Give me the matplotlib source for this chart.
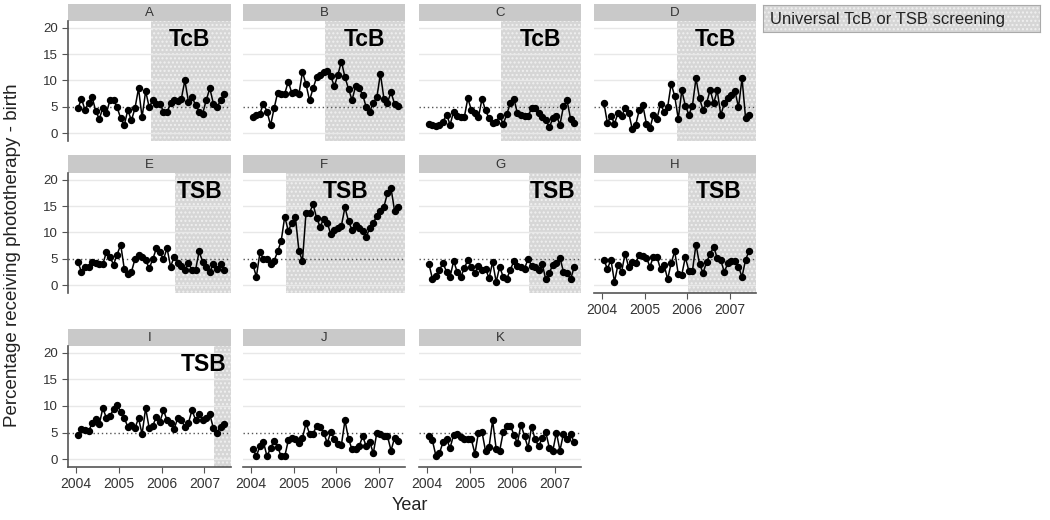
import numpy as np
import matplotlib
matplotlib.use("Agg")
from matplotlib import pyplot as plt
from matplotlib.patches import Rectangle

plt.rcParams['font.family'] = ['Liberation Sans', 'DejaVu Sans']
plt.rcParams['hatch.linewidth'] = 1.0

# monthly values, Jan 2004 - Jun 2007 (percentage receiving phototherapy)
A = [4.7, 6.5, 4.4, 5.8, 6.8, 4.2, 2.7, 4.8, 3.8, 6.3, 6.3, 4.9, 2.8, 1.5, 4.4, 2.4, 4.7, 8.5, 3.0, 8.0,
     4.9, 6.3, 5.5, 5.6, 4.1, 4.0, 5.7, 6.3, 6.1, 6.5, 10.0, 6.0, 6.8, 5.4, 4.1, 3.7, 6.3, 8.5, 5.6, 4.9, 6.2, 7.5]
B = [3.0, 3.5, 3.7, 5.6, 4.1, 1.5, 4.7, 7.7, 7.4, 7.5, 9.8, 7.6, 7.9, 7.4, 11.6, 9.3, 6.2, 8.5, 10.6, 11.0,
     11.6, 11.8, 10.8, 8.9, 11.1, 13.6, 10.6, 8.4, 6.3, 8.9, 8.5, 7.3, 4.9, 4.1, 5.8, 6.8, 11.3, 6.5, 5.8, 7.8, 5.5, 5.1]
C = [1.8, 1.6, 1.3, 1.6, 2.2, 3.5, 1.6, 4.1, 3.2, 3.0, 3.0, 6.6, 4.4, 3.8, 3.0, 6.5, 4.3, 2.8, 2.0, 2.1,
     3.3, 1.7, 3.6, 5.7, 6.5, 3.8, 3.4, 3.2, 3.2, 4.7, 4.7, 3.8, 3.0, 2.5, 1.1, 2.8, 3.3, 1.6, 5.1, 6.2, 2.7, 2.0]
D = [5.8, 1.9, 3.3, 1.8, 3.8, 3.3, 4.7, 3.9, 0.8, 1.6, 4.4, 5.3, 1.8, 0.9, 3.5, 2.7, 5.6, 4.0, 4.9, 9.4,
     7.0, 2.7, 8.1, 5.2, 3.5, 5.2, 10.4, 6.6, 4.4, 5.7, 8.2, 5.7, 8.1, 3.4, 5.7, 6.6, 7.2, 8.0, 4.9, 10.4, 2.8, 3.5]
E = [4.4, 2.5, 3.4, 3.5, 4.4, 4.2, 4.1, 4.0, 6.3, 5.3, 3.9, 5.8, 7.7, 3.1, 2.1, 2.5, 4.9, 5.7, 5.4, 4.7,
     3.2, 4.9, 7.0, 6.2, 4.9, 7.0, 3.5, 5.4, 4.2, 3.7, 2.9, 4.2, 2.9, 2.9, 6.4, 4.4, 3.5, 2.5, 4.1, 3.1, 4.1, 2.9]
F = [3.9, 1.6, 6.2, 5.0, 5.0, 4.0, 4.6, 6.4, 8.4, 13.0, 10.3, 11.8, 13.0, 6.5, 4.6, 13.7, 13.7, 15.4, 12.7, 11.1,
     12.6, 11.8, 9.7, 10.5, 10.9, 11.3, 14.8, 12.1, 10.5, 11.5, 10.9, 10.3, 9.2, 10.8, 11.8, 13.2, 14.0, 14.9, 17.5, 18.4,
     14.1, 14.9]
G = [4.1, 1.2, 1.8, 2.9, 4.2, 2.5, 1.6, 4.6, 2.5, 1.5, 3.2, 4.8, 3.4, 2.3, 3.7, 2.9, 3.1, 1.3, 4.4, 0.6,
     3.5, 1.5, 1.2, 2.9, 4.6, 3.7, 3.4, 3.1, 5.0, 3.7, 3.4, 2.8, 4.0, 1.1, 2.3, 3.9, 4.2, 5.2, 2.5, 2.3, 1.1, 3.4]
H = [4.8, 3.1, 4.8, 0.6, 3.9, 2.5, 6.0, 3.4, 4.4, 4.2, 5.8, 5.6, 5.2, 3.5, 5.4, 5.3, 3.0, 3.9, 1.1, 4.2,
     6.4, 2.1, 2.0, 5.3, 2.7, 2.7, 7.7, 4.0, 2.3, 4.4, 5.9, 7.3, 5.1, 4.7, 2.5, 4.2, 4.6, 4.5, 3.4, 1.6, 4.8, 6.5]
I = [4.6, 5.7, 5.5, 5.3, 6.7, 7.5, 6.6, 9.6, 7.7, 8.1, 9.4, 10.2, 8.9, 7.7, 6.1, 6.4, 5.8, 7.7, 4.7, 9.6,
     5.8, 6.3, 7.9, 7.0, 9.2, 7.3, 6.8, 5.7, 7.7, 7.3, 6.1, 6.8, 9.2, 7.4, 8.4, 7.4, 7.7, 8.4, 5.8, 5.0, 6.1, 6.6]
J = [1.8, 0.6, 2.4, 3.2, 0.5, 2.1, 3.4, 2.3, 0.5, 0.5, 3.5, 3.9, 3.8, 3.0, 4.0, 6.7, 4.8, 4.8, 6.2, 6.1,
     5.0, 3.0, 5.1, 3.8, 2.9, 2.7, 7.3, 3.8, 1.8, 1.9, 2.4, 4.3, 2.4, 3.2, 1.1, 5.0, 4.7, 4.4, 4.3, 1.6, 4.0, 3.4]
K = [4.4, 3.5, 0.6, 1.1, 3.2, 3.7, 2.1, 4.6, 4.7, 4.1, 3.8, 3.8, 3.7, 1.0, 5.0, 5.1, 1.5, 2.3, 7.3, 1.9,
     1.6, 5.1, 6.3, 6.3, 4.6, 3.0, 6.5, 4.3, 2.1, 6.1, 3.7, 2.4, 4.0, 5.1, 2.1, 1.6, 5.0, 1.6, 4.8, 3.8, 4.7, 3.2]

paneles = ['A', 'B', 'C', 'D', 'E', 'F', 'G', 'H', 'I', 'J', 'K']
series = [A, B, C, D, E, F, G, H, I, J, K]
# start of universal screening (decimal year) and method
inicio = {'A': 2005.75, 'B': 2005.75, 'C': 2005.75, 'D': 2005.76, 'E': 2006.31,
          'F': 2004.83, 'G': 2006.40, 'H': 2006.02, 'I': 2007.22}
metodo = {'A': 'TcB', 'B': 'TcB', 'C': 'TcB', 'D': 'TcB', 'E': 'TSB',
          'F': 'TSB', 'G': 'TSB', 'H': 'TSB', 'I': 'TSB'}
anios = [2004, 2005, 2006, 2007]

meses = np.arange(42)
x = 2004 + (meses + 0.5) / 12

W, Hf = 1050, 520
def caja(x0, y0, x1, y1):
    return [x0 / W, 1 - y1 / Hf, (x1 - x0) / W, (y1 - y0) / Hf]

cols_x = [(68, 231), (243, 405), (419, 581), (594, 756)]
filas_y = [(4, 21, 141), (155, 173, 293), (329, 346, 467)]
xmin, xmax = 2003.81, 2007.62
# right edge of the TcB/TSB label, pixels from the panel's right side
margen_txt = {'A': 21, 'B': 20, 'C': 20, 'D': 20, 'E': 8, 'F': 36, 'G': 6, 'H': 15, 'I': 4}

fig = plt.figure(figsize=(10.5, 5.2), dpi=100)

gris_sombra = '#d6d6d6'
gris_punto = '#f0f0f0'

for k, (nombre, y) in enumerate(zip(paneles, series)):
    fila, col = divmod(k, 4)
    x0, x1 = cols_x[col]
    s, p, b = filas_y[fila]

    tira = fig.add_axes(caja(x0, s, x1, p))
    tira.set_facecolor('#c9c9c9')
    tira.set_xticks([]); tira.set_yticks([])
    for sp in tira.spines.values():
        sp.set_visible(False)
    tira.text(0.5, 0.45, nombre, ha='center', va='center', fontsize=9.5, color='#333333')

    ax = fig.add_axes(caja(x0, p, x1, b))
    ax.set_xlim(xmin, xmax)
    ax.set_ylim(-1.5, 21.3)
    for sp in ax.spines.values():
        sp.set_visible(False)

    if nombre in inicio:
        ax.axvspan(inicio[nombre], xmax, facecolor=gris_sombra, edgecolor=gris_punto,
                   hatch='....', lw=0, zorder=0)
    for g in [0, 10, 15, 20]:
        ax.axhline(g, color='#e8e8e8', lw=1, zorder=0.5)
    ax.axhline(5, color='#555555', lw=1, ls=(0, (1, 2)), zorder=1)

    ax.plot(x, y, '-o', color='black', ms=4.3, lw=1.1, zorder=3)

    if nombre in metodo:
        xt = 1 - margen_txt[nombre] / (x1 - x0)
        ax.text(xt, 0.845, metodo[nombre], ha='right', va='center', transform=ax.transAxes,
                fontsize=16.5, fontweight='bold', zorder=4)

    if col == 0:
        ax.spines['left'].set_visible(True)
        ax.spines['left'].set_color('#555555')
        ax.spines['left'].set_linewidth(1.2)
        ax.set_yticks([0, 5, 10, 15, 20])
        ax.tick_params(axis='y', length=4, color='#555555', labelsize=9.5, labelcolor='#333333')
    else:
        ax.set_yticks([])

    if nombre in ['H', 'I', 'J', 'K']:
        ax.spines['bottom'].set_visible(True)
        ax.spines['bottom'].set_color('#555555')
        ax.spines['bottom'].set_linewidth(1.2)
        ax.set_xticks(anios)
        ax.set_xticklabels([str(a) for a in anios])
        ax.tick_params(axis='x', length=4, color='#555555', labelsize=10, labelcolor='#333333')
    else:
        ax.set_xticks([])

# legend box
leg = fig.add_axes(caja(763, 5, 1040, 32))
leg.set_xticks([]); leg.set_yticks([])
leg.add_patch(Rectangle((0, 0), 1, 1, transform=leg.transAxes, facecolor=gris_sombra,
                        edgecolor=gris_punto, hatch='....', lw=0))
for sp in leg.spines.values():
    sp.set_color('#aaaaaa')
    sp.set_linewidth(0.8)
leg.text(0.025, 0.48, 'Universal TcB or TSB screening', ha='left', va='center', fontsize=12, color='#222222')

fig.text(13 / W, 1 - 255 / Hf, 'Percentage receiving phototherapy - birth', rotation=90,
         ha='center', va='center', fontsize=13.5, color='#222222')
fig.text(410 / W, 1 - 506 / Hf, 'Year', ha='center', va='center', fontsize=13, color='#222222')

fig.savefig('out.png', dpi=100)
